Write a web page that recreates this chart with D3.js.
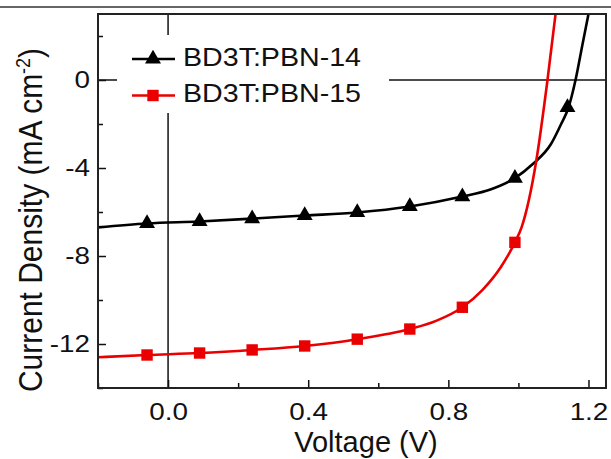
<!DOCTYPE html>
<html>
<head>
<meta charset="utf-8">
<script src="https://cdn.jsdelivr.net/npm/d3@7"></script>
<style>
  body { margin: 0; background: #fff; }
  svg { display: block; font-family: "Liberation Sans", Arial, Helvetica, sans-serif; }
</style>
</head>
<body>
<svg id="chart"></svg>
<script>

// J-V data (voltage in V, current density in mA cm-2)
var seriesNames = ["BD3T:PBN-14", "BD3T:PBN-15"];

var voltage14 = [-0.20, -0.06, 0.09, 0.24, 0.39, 0.54, 0.69, 0.84, 0.92, 0.99, 1.041, 1.093, 1.122, 1.143, 1.163, 1.183, 1.20];
var current14 = [-6.70, -6.52, -6.43, -6.30, -6.16, -6.02, -5.75, -5.30, -4.98, -4.46, -3.82, -2.91, -2.00, -1.25, 0.00, 1.63, 3.00];

var voltage15 = [-0.20, -0.06, 0.09, 0.24, 0.39, 0.54, 0.69, 0.765, 0.84, 0.897, 0.95, 0.99, 1.009, 1.051, 1.083, 1.106];
var current15 = [-12.60, -12.50, -12.41, -12.27, -12.09, -11.78, -11.32, -10.95, -10.33, -9.55, -8.50, -7.38, -6.70, -3.67, 0.00, 3.00];

// symbols
var markerV = [-0.06, 0.09, 0.24, 0.39, 0.54, 0.69, 0.84, 0.99, 1.14];
var marker14 = [-6.52, -6.43, -6.30, -6.16, -6.02, -5.75, -5.30, -4.46, -1.25];
var marker15 = [-12.50, -12.41, -12.27, -12.09, -11.78, -11.32, -10.33, -7.38];

var xMajor = [0.0, 0.4, 0.8, 1.2];
var xMinor = [-0.2, 0.2, 0.6, 1.0];
var yMajor = [-12, -8, -4, 0];
var yMinor = [-14, -10, -6, -2, 2];

var W = 611, H = 459;
var plotL = 98, plotR = 606, plotT = 14, plotB = 388;

var svg = d3.select("#chart")
	.attr("width", W)
	.attr("height", H);

var x = d3.scaleLinear().domain([-0.2, 1.25]).range([plotL, plotR]);
var y = d3.scaleLinear().domain([-14, 3]).range([plotB, plotT]);

// stray border line at the very top of the crop
svg.append("line")
	.attr("x1", 0).attr("x2", W)
	.attr("y1", 7).attr("y2", 7)
	.style("stroke", "#333")
	.style("stroke-width", 1.6);

// zero lines
svg.append("line")
	.attr("x1", plotL).attr("x2", plotR)
	.attr("y1", y(0)).attr("y2", y(0))
	.style("stroke", "#111").style("stroke-width", 1.5);

svg.append("line")
	.attr("x1", x(0)).attr("x2", x(0))
	.attr("y1", plotT).attr("y2", plotB)
	.style("stroke", "#111").style("stroke-width", 1.5);

// axes, ticks pointing inward
function styleAxis(g) {
	g.select(".domain").remove();
	g.selectAll("line").style("stroke", "#111").style("stroke-width", 1.5);
	g.selectAll("text")
		.style("font-size", "24px")
		.style("fill", "#111")
		.attr("transform", "scale(1.16,1)");
}

svg.append("g")
	.attr("transform", "translate(0," + plotB + ")")
	.call(d3.axisBottom(x).tickValues(xMajor).tickSize(-8).tickPadding(15).tickFormat(function(d) { return d.toFixed(1); }))
	.call(styleAxis);

svg.append("g")
	.attr("transform", "translate(0," + plotB + ")")
	.call(d3.axisBottom(x).tickValues(xMinor).tickSize(-5).tickFormat(""))
	.call(styleAxis);

svg.append("g")
	.attr("transform", "translate(" + plotL + ",0)")
	.call(d3.axisLeft(y).tickValues(yMajor).tickSize(-8).tickPadding(7).tickFormat(function(d) { return String(d); }))
	.call(styleAxis);

svg.append("g")
	.attr("transform", "translate(" + plotL + ",0)")
	.call(d3.axisLeft(y).tickValues(yMinor).tickSize(-5).tickFormat(""))
	.call(styleAxis);

// clip curves to plot frame
svg.append("clipPath")
	.attr("id", "plotclip")
	.append("rect")
	.attr("x", plotL).attr("y", plotT)
	.attr("width", plotR - plotL).attr("height", plotB - plotT);

var line = d3.line()
	.x(function(d) { return x(d[0]); })
	.y(function(d) { return y(d[1]); })
	.curve(d3.curveMonotoneX);

var series = [
	{ name: seriesNames[0], color: "#000", v: voltage14, j: current14, mj: marker14, sym: d3.symbolTriangle, size: 110 },
	{ name: seriesNames[1], color: "#ea0000", v: voltage15, j: current15, mj: marker15, sym: d3.symbolSquare, size: 130 }
];

series.forEach(function(s) {
	var pts = s.v.map(function(v, i) { return [v, s.j[i]]; });
	svg.append("path")
		.attr("d", line(pts))
		.attr("clip-path", "url(#plotclip)")
		.style("fill", "none")
		.style("stroke", s.color)
		.style("stroke-width", 2.6);

	svg.selectAll(null)
		.data(s.mj)
		.enter().append("path")
		.attr("transform", function(d, i) { return "translate(" + x(markerV[i]) + "," + y(d) + ")"; })
		.attr("d", d3.symbol().type(s.sym).size(s.size))
		.style("fill", s.color);
});

// legend with white background (covers the zero lines)
var legend = svg.append("g");

legend.append("rect")
	.attr("x", 117).attr("y", 35)
	.attr("width", 272).attr("height", 78)
	.style("fill", "#fff");

series.forEach(function(s, i) {
	var cy = 59 + i * 36.5;
	legend.append("line")
		.attr("x1", 132).attr("x2", 175)
		.attr("y1", cy).attr("y2", cy)
		.style("stroke", s.color)
		.style("stroke-width", 2.6);
	legend.append("path")
		.attr("transform", "translate(153," + cy + ")")
		.attr("d", d3.symbol().type(s.sym).size(s.size))
		.style("fill", s.color);
	legend.append("text")
		.attr("transform", "translate(183," + (cy + 6.5) + ") scale(1.1,1)")
		.style("font-size", "26px")
		.style("fill", "#111")
		.text(s.name);
});

// axis titles
svg.append("text")
	.attr("x", 366)
	.attr("y", 452)
	.style("text-anchor", "middle")
	.style("font-size", "29px")
	.style("fill", "#111")
	.text("Voltage (V)");

var ylab = svg.append("text")
	.attr("transform", "translate(42,220) rotate(-90) scale(1,1.1)")
	.style("text-anchor", "middle")
	.style("font-size", "30px")
	.style("fill", "#111");

ylab.append("tspan").text("Current Density (mA cm");
ylab.append("tspan").attr("dy", -11).style("font-size", "18px").text("-2");
ylab.append("tspan").attr("dy", 11).text(")");

// plot frame
svg.append("rect")
	.attr("x", plotL).attr("y", plotT)
	.attr("width", plotR - plotL).attr("height", plotB - plotT)
	.style("fill", "none")
	.style("stroke", "#222")
	.style("stroke-width", 2);

</script>
</body>
</html>
